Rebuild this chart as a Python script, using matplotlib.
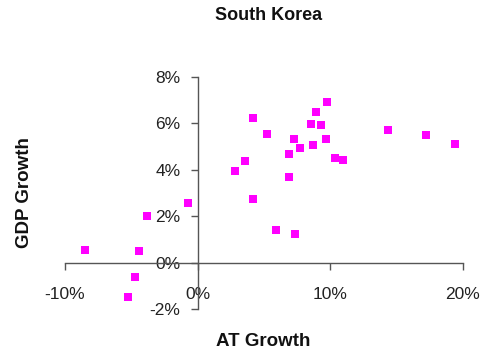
import matplotlib
matplotlib.use("Agg")
import matplotlib.pyplot as plt
from matplotlib.ticker import FuncFormatter

plt.rcParams['font.family'] = ['Liberation Sans', 'DejaVu Sans']

at_growth = [-8.49, -4.39, -4.70, -5.28, -3.84, -0.75, 2.79, 3.57, 4.14, 4.14,
             5.22, 9.75, 8.89, 8.52, 9.27, 7.23, 9.67, 7.69, 8.72, 6.88,
             10.38, 10.95, 6.88, 5.93, 7.31, 14.32, 17.18, 19.42]
gdp_growth = [0.56, 0.50, -0.62, -1.49, 2.03, 2.58, 3.94, 4.36, 6.25, 2.72,
              5.55, 6.94, 6.51, 5.99, 5.94, 5.32, 5.32, 4.92, 5.09, 4.66,
              4.53, 4.43, 3.67, 1.42, 1.23, 5.72, 5.49, 5.12]
x_ticks = [-10, 0, 10, 20]
y_ticks = [-2, 0, 2, 4, 6, 8]

W, H = 485, 354
fig = plt.figure(figsize=(W / 100, H / 100), dpi=100)
ax = fig.add_axes([65 / W, 1 - 309 / H, (463 - 65) / W, (309 - 77) / H])

ax.scatter(at_growth, gdp_growth, marker='s', s=38, color='#FF00FF',
           linewidths=0, zorder=3, clip_on=False)

ax.set_xlim(-10, 20)
ax.set_ylim(-2, 8)
ax.set_xticks(x_ticks)
ax.set_yticks(y_ticks)
fmt = FuncFormatter(lambda v, p: f"{v:.0f}%")
ax.xaxis.set_major_formatter(fmt)
ax.yaxis.set_major_formatter(fmt)

for s in ['top', 'right']:
    ax.spines[s].set_visible(False)
ax.spines['left'].set_position(('data', 0))
ax.spines['bottom'].set_position(('data', 0))
for s in ['left', 'bottom']:
    ax.spines[s].set_color('#555555')
    ax.spines[s].set_linewidth(1.0)

ax.tick_params(axis='x', direction='out', length=5, width=1, color='#555555',
               labelsize=12.5, pad=12.5, labelcolor='#222222')
ax.tick_params(axis='y', direction='out', length=5, width=1, color='#555555',
               labelsize=12.5, pad=7.5, labelcolor='#222222')

fig.text(269 / W, 1 - 16 / H, 'South Korea', ha='center', va='center',
         fontsize=13, fontweight='bold', color='#111111')
fig.text(263 / W, 1 - 341 / H, 'AT Growth', ha='center', va='center',
         fontsize=13.5, fontweight='bold', color='#111111')
fig.text(25 / W, 1 - 193 / H, 'GDP Growth', ha='center', va='center',
         rotation=90, fontsize=13.5, fontweight='bold', color='#111111')

fig.savefig('out.png', dpi=100)
